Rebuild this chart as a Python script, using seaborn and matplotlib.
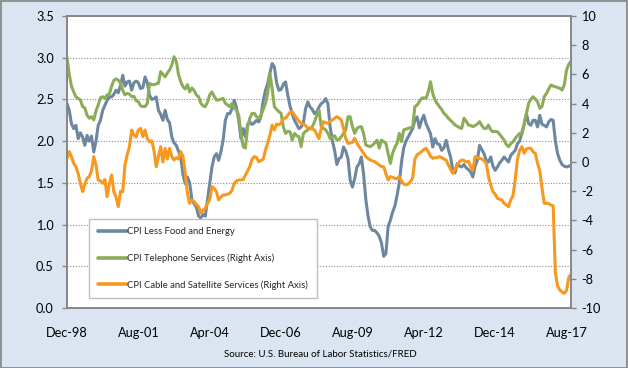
import numpy as np
import pandas as pd
import matplotlib
matplotlib.use("Agg")
import matplotlib.pyplot as plt
from matplotlib.patches import Rectangle
from matplotlib.lines import Line2D
import seaborn as sns

# ---------------- data (monthly, Dec-98 .. Oct-17) ----------------
months = pd.date_range("1998-12-01", periods=227, freq="MS")
tick_labels = ["Dec-98", "Aug-01", "Apr-04", "Dec-06", "Aug-09", "Apr-12", "Dec-14", "Aug-17"]
series_names = ["CPI Less Food and Energy",
                "CPI Telephone Services (Right Axis)",
                "CPI Cable and Satellite Services (Right Axis)"]

core = [2.45, 2.37, 2.21, 2.15, 2.19, 2.03, 2.10, 2.05, 1.95, 2.07, 2.00, 2.06, 1.87,
        2.00, 2.19, 2.25, 2.37, 2.43, 2.49, 2.53, 2.53, 2.56, 2.61, 2.58, 2.67,
        2.79, 2.66, 2.71, 2.72, 2.61, 2.70, 2.72, 2.70, 2.63, 2.64, 2.77, 2.70,
        2.55, 2.50, 2.51, 2.53, 2.37, 2.32, 2.25, 2.37, 2.26, 2.22, 2.05, 1.98,
        1.95, 1.88, 1.81, 1.60, 1.49, 1.57, 1.50, 1.30, 1.25, 1.21, 1.10, 1.08,
        1.12, 1.10, 1.30, 1.49, 1.69, 1.81, 1.85, 1.77, 1.87, 2.01, 2.25, 2.33,
        2.33, 2.39, 2.49, 2.40, 2.25, 2.03, 2.15, 2.05, 2.20, 2.23, 2.20, 2.22,
        2.25, 2.23, 2.30, 2.49, 2.61, 2.69, 2.82, 2.93, 2.89, 2.70, 2.61, 2.62,
        2.68, 2.71, 2.55, 2.42, 2.33, 2.25, 2.20, 2.15, 2.17, 2.22, 2.39, 2.47,
        2.41, 2.38, 2.33, 2.35, 2.41, 2.45, 2.47, 2.51, 2.45, 2.17, 2.00, 1.89,
        1.72, 1.79, 1.81, 1.93, 1.88, 1.79, 1.53, 1.45, 1.55, 1.69, 1.73, 1.81,
        1.60, 1.30, 1.10, 0.97, 0.93, 0.93, 0.90, 0.86, 0.78, 0.62, 0.65, 0.98,
        1.05, 1.15, 1.22, 1.35, 1.50, 1.75, 1.92, 2.00, 2.05, 2.10, 2.15, 2.25,
        2.29, 2.16, 2.25, 2.31, 2.21, 2.15, 2.09, 1.93, 2.03, 1.97, 1.96, 1.89,
        1.92, 2.01, 1.90, 1.81, 1.65, 1.62, 1.73, 1.70, 1.69, 1.72, 1.68, 1.66,
        1.63, 1.57, 1.70, 1.77, 1.95, 1.90, 1.85, 1.77, 1.75, 1.81, 1.70, 1.65,
        1.69, 1.74, 1.77, 1.81, 1.78, 1.75, 1.83, 1.86, 1.89, 1.97, 2.00, 2.11,
        2.20, 2.33, 2.21, 2.19, 2.25, 2.25, 2.17, 2.31, 2.20, 2.19, 2.17, 2.23,
        2.26, 2.25, 2.00, 1.85, 1.77, 1.72, 1.70, 1.69, 1.70, 1.71]

phone = [7.17, 6.00, 5.20, 4.80, 4.47, 4.35, 4.25, 3.80, 3.70, 3.20, 3.00, 3.10, 2.88,
         3.50, 3.90, 4.40, 4.47, 4.36, 4.60, 4.65, 5.20, 5.60, 5.70, 5.60, 5.40,
         4.90, 4.60, 4.70, 4.65, 4.47, 4.50, 4.20, 4.13, 3.85, 3.80, 3.80, 4.00,
         5.39, 5.30, 5.30, 5.35, 5.40, 6.19, 6.00, 5.84, 6.10, 6.30, 6.64, 7.21,
         6.90, 6.00, 5.50, 5.16, 5.00, 5.30, 4.80, 5.07, 4.90, 4.60, 4.47, 4.02,
         3.85, 3.79, 4.10, 4.60, 4.80, 4.50, 4.25, 4.25, 4.30, 4.36, 4.02, 3.90,
         3.79, 4.02, 3.70, 3.56, 3.20, 2.00, 1.05, 0.95, 2.40, 3.00, 3.33, 3.33,
         3.10, 3.00, 3.20, 3.60, 4.02, 4.70, 6.07, 5.00, 3.79, 3.60, 3.45, 3.33,
         2.42, 1.96, 2.10, 2.07, 1.50, 1.96, 1.80, 1.73, 1.05, 1.96, 2.10, 2.20,
         2.30, 2.42, 2.76, 3.20, 3.56, 2.42, 2.30, 2.20, 1.96, 1.60, 1.70, 1.80,
         1.50, 1.55, 1.73, 1.96, 2.20, 3.10, 3.10, 2.42, 1.96, 2.30, 2.40, 2.42,
         1.96, 1.16, 1.10, 1.05, 1.16, 1.30, 1.50, 0.95, 1.50, 1.40, 1.27, 0.60,
         -0.10, 0.59, 1.00, 1.27, 1.96, 1.40, 2.20, 2.25, 2.30, 2.35, 2.40, 3.79,
         3.90, 4.13, 4.36, 4.40, 4.36, 4.80, 5.50, 4.70, 4.25, 4.00, 3.79, 3.60,
         3.33, 3.20, 3.00, 2.85, 2.70, 2.53, 2.45, 2.35, 2.30, 3.00, 2.80, 2.53,
         2.50, 2.42, 2.50, 2.60, 2.76, 2.50, 2.30, 2.30, 2.53, 2.20, 2.07, 2.10,
         2.07, 1.90, 1.70, 1.50, 1.20, 1.05, 1.25, 1.39, 1.62, 1.80, 1.96, 1.90,
         2.60, 3.33, 4.02, 4.30, 4.47, 4.30, 4.13, 3.68, 3.80, 4.47, 4.70, 5.00,
         5.27, 5.20, 5.16, 5.10, 5.05, 4.93, 5.30, 6.30, 6.70, 6.90]

cable = [0.25, 0.71, 0.37, -0.10, -0.32, -0.78, -1.46, -2.03, -1.50, -1.12, -1.00, -0.60, 0.37,
         -0.20, -1.23, -1.30, -1.46, -1.20, -2.37, -1.50, -0.89, -2.03, -2.40, -3.06, -2.00,
         -2.03, -0.20, 0.50, 1.05, 2.19, 1.85, 1.70, 2.19, 2.30, 1.74, 2.19, 1.60,
         1.39, 1.45, 0.80, -0.32, 0.37, 1.05, 0.00, 0.93, 0.20, 0.93, 0.37, 0.14,
         0.30, 0.20, 0.71, 0.40, -0.78, -2.15, -2.83, -2.60, -2.70, -2.90, -3.06, -3.50,
         -3.30, -3.17, -2.83, -2.60, -1.69, -1.80, -2.03, -2.60, -2.40, -2.26, -2.26, -2.20,
         -2.15, -1.92, -1.46, -1.30, -1.23, -1.23, -1.20, -0.90, -0.60, -0.30, 0.20, 0.37,
         0.30, 0.02, 0.10, 0.20, 0.82, 1.30, 1.85, 2.53, 2.20, 2.60, 2.55, 2.65,
         3.00, 3.00, 3.20, 3.40, 3.45, 3.20, 3.00, 2.80, 2.65, 2.60, 2.50, 2.30,
         2.35, 2.25, 2.19, 1.90, 1.60, 2.30, 2.76, 2.70, 2.65, 2.80, 2.88, 3.00,
         3.10, 3.00, 2.88, 2.30, 1.60, 1.28, 1.30, 1.35, 1.62, 1.30, 1.05, 0.82,
         0.60, 0.37, 0.25, 0.14, 0.08, 0.02, -0.09, -0.20, -0.32, -0.32, -0.80, -1.23,
         -1.00, -1.05, -1.12, -1.15, -1.00, -1.30, -1.50, -1.57, -1.50, -1.35, -1.10, 0.20,
         0.50, 0.59, 0.71, 0.85, 0.94, 0.70, 0.40, 0.25, 0.30, 0.30, 0.37, 0.30,
         0.20, 0.14, -0.20, -0.50, -0.78, -0.50, -0.20, 0.02, 0.14, 0.10, 0.00, 0.05,
         -0.30, -0.55, 0.37, 0.30, 0.25, 0.20, 0.10, -0.09, -1.00, -1.57, -2.03, -2.20,
         -2.49, -2.55, -2.60, -2.83, -2.95, -3.06, -2.60, -2.30, -1.20, 0.20, 0.80, 1.05,
         0.60, 0.90, 0.94, 0.94, 0.70, 0.59, -0.09, -0.60, -1.80, -2.83, -2.83, -2.85,
         -2.95, -3.00, -7.60, -8.50, -8.77, -8.90, -9.00, -8.80, -7.90, -7.70]

df = pd.DataFrame({"idx": np.arange(len(months)), "month": months,
                   "core": core, "phone": phone, "cable": cable})

# ---------------- style ----------------
sns.set_theme(style="white")
plt.rcParams["font.family"] = ["Lato", "DejaVu Sans"]

BG = "#dbe5f1"
C_CORE = "#6e87a1"
C_PHONE = "#8cad57"
C_CABLE = "#f7981f"
AXC = "#868686"

W, H = 628, 368
fig = plt.figure(figsize=(W / 100, H / 100), dpi=100, facecolor=BG)
fig.patches.append(Rectangle((0.5 / W, 0.5 / H), 1 - 1.5 / W, 1 - 1.5 / H,
                             transform=fig.transFigure, fill=False,
                             edgecolor="#8a8a8a", lw=1.3))

ax = fig.add_axes([67 / W, 60 / H, 504 / W, 292 / H])
ax.set_facecolor("white")
ax2 = ax.twinx()

lw = 2.2
sns.lineplot(data=df, x="idx", y="core", ax=ax, color=C_CORE, lw=lw, legend=False)
sns.lineplot(data=df, x="idx", y="phone", ax=ax2, color=C_PHONE, lw=lw, legend=False)
sns.lineplot(data=df, x="idx", y="cable", ax=ax2, color=C_CABLE, lw=lw, legend=False)

ax.set_xlim(0, len(months) - 1)
ax.set_ylim(0, 3.5)
ax2.set_ylim(-10, 10)

# gridlines (left axis)
for y in np.arange(0.5, 3.01, 0.5):
    ax.axhline(y, color="#8c8c8c", lw=0.8, ls=(0, (1, 1.5)), zorder=0.5)

ax.set_yticks(np.arange(0, 3.51, 0.5))
ax.set_yticklabels([f"{v:.1f}" for v in np.arange(0, 3.51, 0.5)])
ax2.set_yticks(np.arange(-10, 11, 2))
ax2.set_yticklabels([str(v) for v in range(-10, 11, 2)])
ax.set_xticks(np.arange(0, len(months), 32))
ax.set_xticklabels(tick_labels)

for a in (ax, ax2):
    a.set_xlabel("")
    a.set_ylabel("")
    for s in a.spines.values():
        s.set_color(AXC)
        s.set_linewidth(1.2)

ax.tick_params(axis="y", which="major", left=True, length=3.5, width=1, color=AXC,
               labelsize=9.2, labelcolor="black", pad=6)
ax.tick_params(axis="x", which="major", bottom=False, length=0, labelsize=9.2,
               labelcolor="black", pad=14)
ax2.tick_params(axis="y", which="major", right=True, length=3.5, width=1, color=AXC,
                labelsize=9.2, labelcolor="black", pad=4)

# legend
handles = [Line2D([], [], color=c, lw=2.6) for c in (C_CORE, C_PHONE, C_CABLE)]
leg = ax2.legend(handles, series_names, loc="upper left",
                 bbox_to_anchor=(89 / W, 1 - 219 / H), bbox_transform=fig.transFigure,
                 fontsize=6.8, frameon=True, fancybox=False, handlelength=3.1,
                 handletextpad=0.05, labelspacing=1.8, borderpad=0.9,
                 borderaxespad=0, framealpha=1)
leg.get_frame().set_edgecolor("#bfbfbf")
leg.get_frame().set_linewidth(1.0)

fig.text(320 / W, 1 - 354 / H, "Source: U.S. Bureau of Labor Statistics/FRED",
         ha="center", va="center", fontsize=7.0, color="black")

fig.savefig("out.png", dpi=100, facecolor=BG)
